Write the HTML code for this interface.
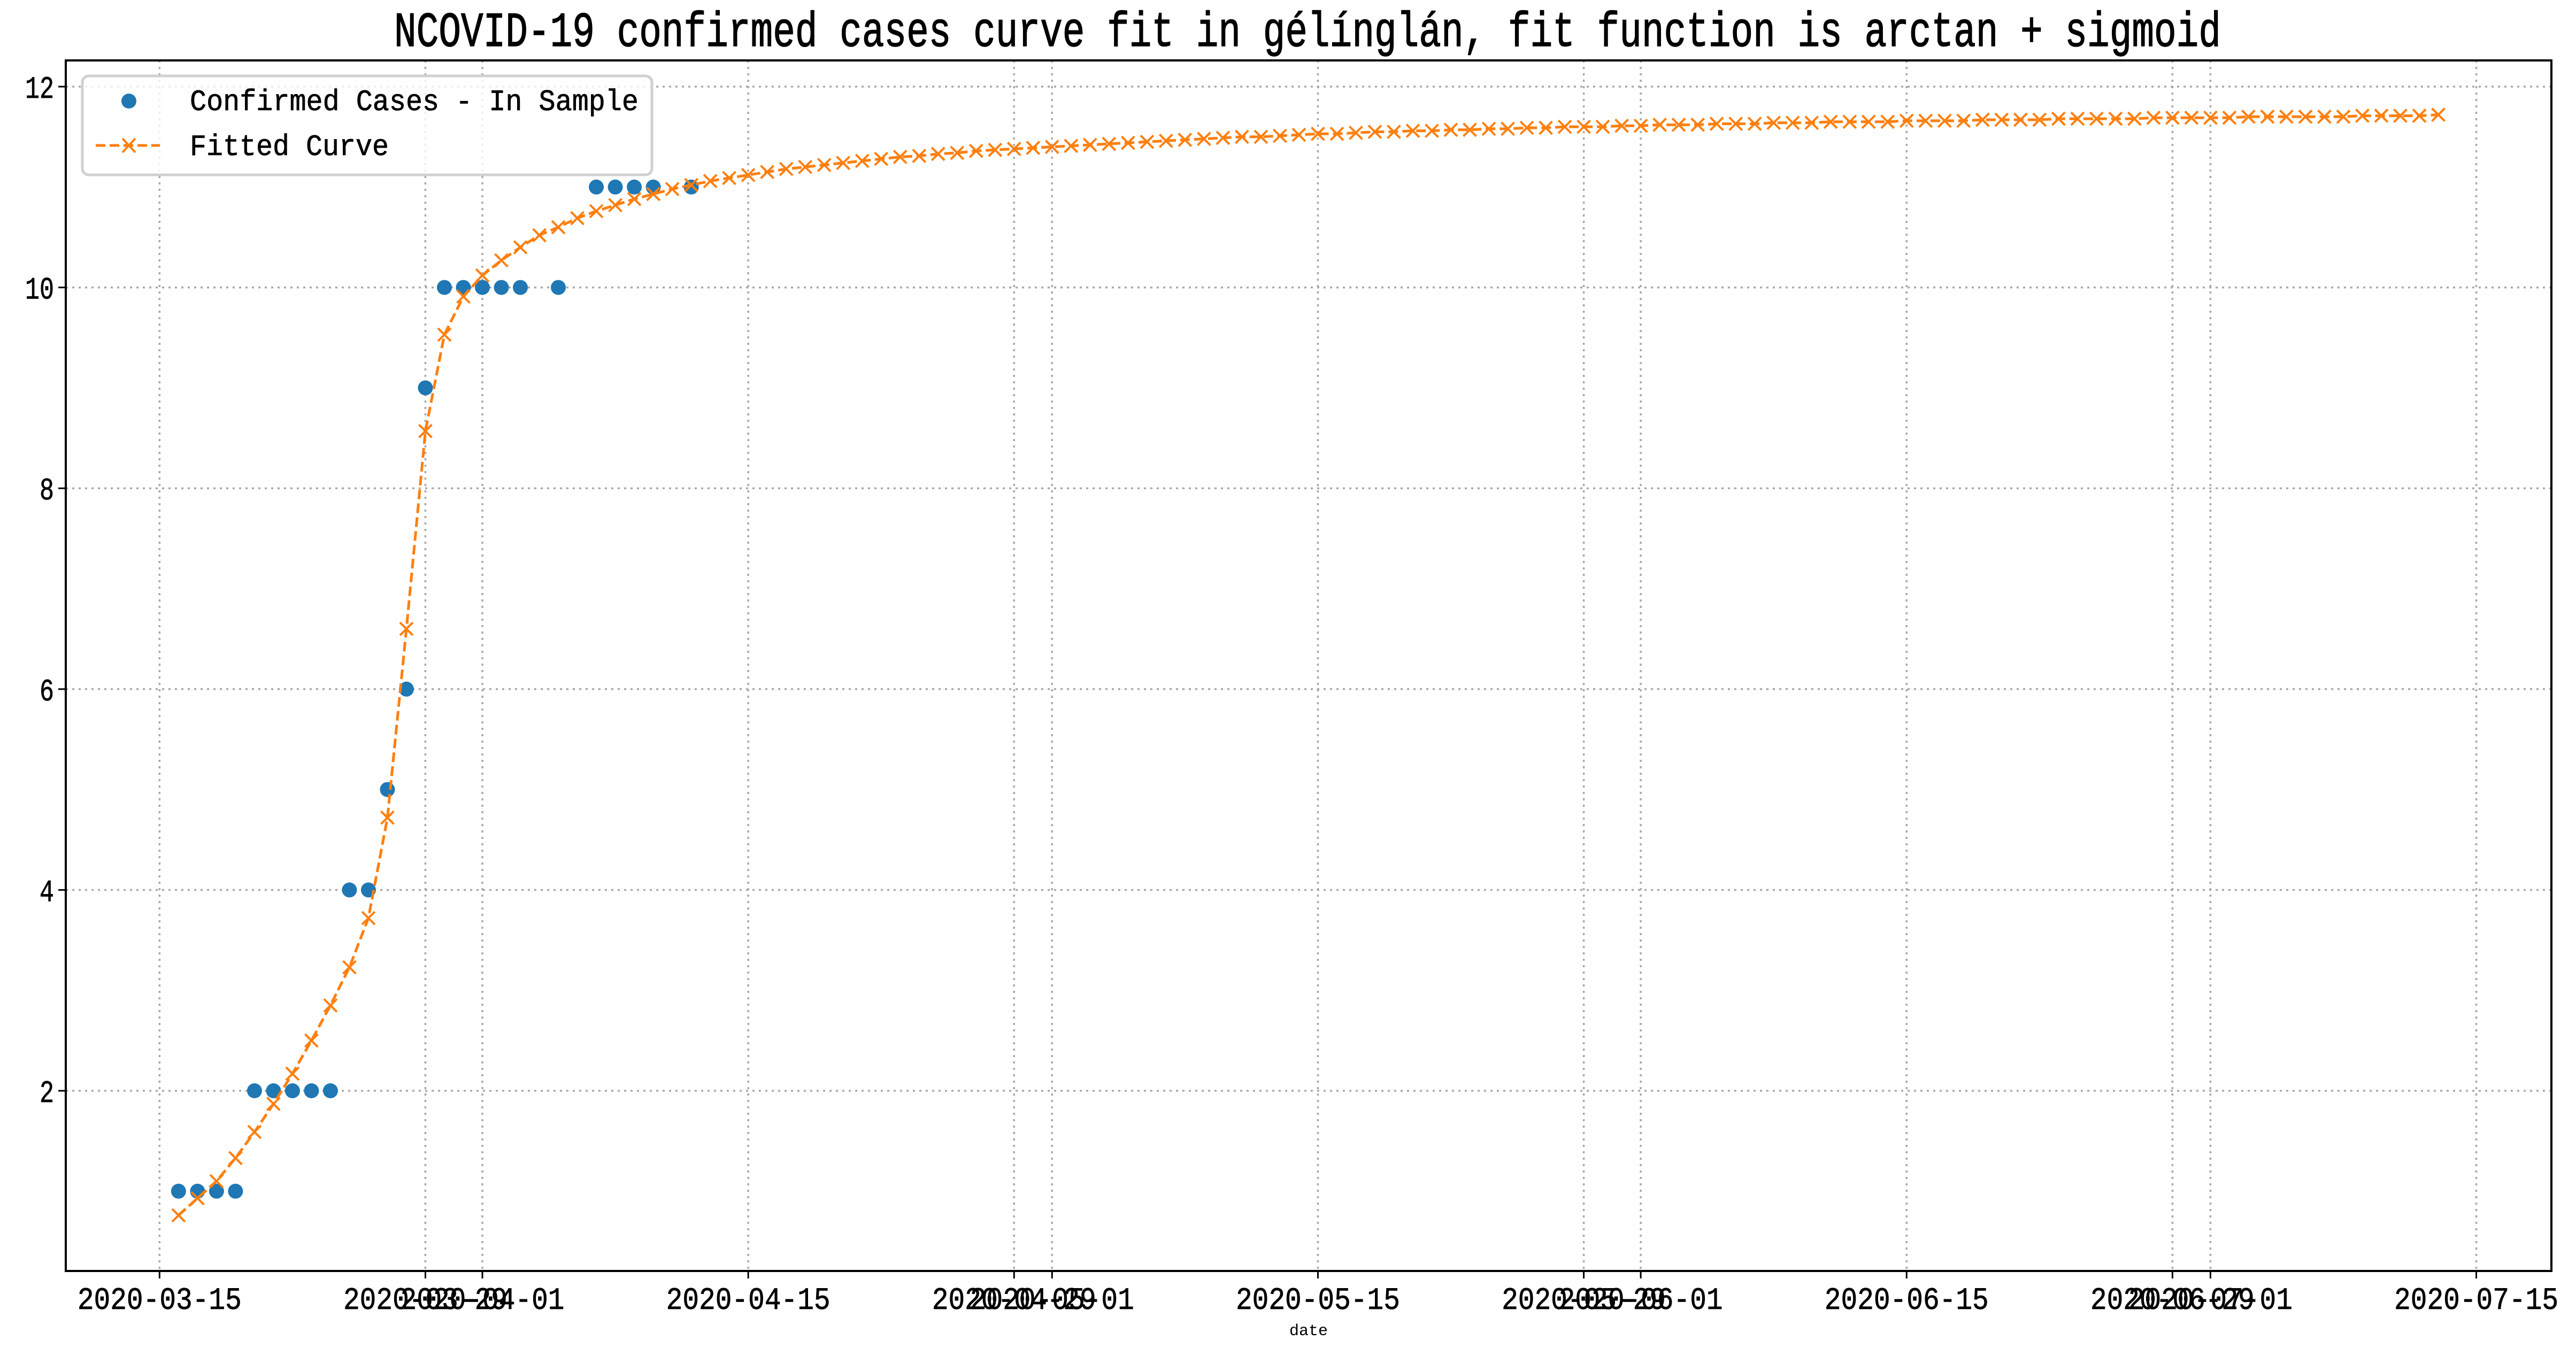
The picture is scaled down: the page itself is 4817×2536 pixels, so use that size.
<!DOCTYPE html>
<html><head><meta charset="utf-8"><style>
html,body{margin:0;padding:0;background:#fff;}
svg{display:block;}
text{font-family:"Liberation Mono","Noto Sans CJK SC",monospace;fill:#000;}
</style></head><body>
<svg id="chart" width="4817" height="2536" viewBox="0 0 4817 2536" xmlns="http://www.w3.org/2000/svg">
<rect width="4817" height="2536" fill="#fff"/>
<text x="2445" y="86" text-anchor="middle" font-size="92" stroke="#000" stroke-width="1.5" textLength="3416" lengthAdjust="spacingAndGlyphs">NCOVID-19 confirmed cases curve fit in gélínglán, fit function is arctan + sigmoid</text>
<g id="grid"></g>
<g id="series"></g>
<rect x="123" y="113" width="4648" height="2264" fill="none" stroke="#000" stroke-width="4"/>
<g id="axes"></g>
<text x="2447" y="2497" text-anchor="middle" font-size="30">date</text>
<g>
<rect x="154" y="142" width="1065" height="185" rx="12" fill="#fff" fill-opacity="0.8" stroke="#d0d0d0" stroke-width="5"/>
<circle cx="241" cy="189" r="14" fill="#1f77b4"/>
<text x="355" y="206" font-size="56" stroke="#000" stroke-width="0.8" textLength="839" lengthAdjust="spacingAndGlyphs">Confirmed Cases - In Sample</text>
<line x1="179" y1="272" x2="299" y2="272" stroke="#ff7f0e" stroke-width="5" stroke-dasharray="18,8"/>
<path d="M229 259 L253 285 M229 285 L253 259" stroke="#ff7f0e" stroke-width="4"/>
<text x="355" y="290" font-size="56" stroke="#000" stroke-width="0.8" textLength="372" lengthAdjust="spacingAndGlyphs">Fitted Curve</text>
</g>
</svg>
<script>
const NS = "http://www.w3.org/2000/svg";
const xTickLabels = ["2020-03-15","2020-03-29","2020-04-01","2020-04-15","2020-04-29","2020-05-01","2020-05-15","2020-05-29","2020-06-01","2020-06-15","2020-06-29","2020-07-01","2020-07-15"];
const yTicks = [2,4,6,8,10,12];
const caseDayOffsets = [0,1,2,3,4,5,6,7,8,9,10,11,12,13,14,15,16,17,18,20,22,23,24,25,27];
const caseValues = [1,1,1,1,2,2,2,2,2,4,4,5,6,9,10,10,10,10,10,10,11,11,11,11,11];
const fitStartDate = "2020-03-16";
const fitValues = [0.76,0.93,1.10,1.33,1.59,1.87,2.17,2.50,2.85,3.23,3.72,4.72,6.60,8.57,9.53,9.91,10.12,10.27,10.40,10.52,10.60,10.69,10.76,10.82,10.88,10.93,10.98,
11.02,11.06,11.09,11.12,11.15,11.18,11.20,11.22,11.24,11.26,11.28,11.30,11.31,11.33,11.34,11.36,11.37,11.38,11.39,11.40,11.41,11.42,11.43,
11.44,11.45,11.46,11.47,11.48,11.49,11.50,11.50,11.51,11.52,
11.53,11.53,11.54,11.55,11.55,11.56,11.56,11.57,11.57,11.58,
11.58,11.59,11.59,11.60,11.60,11.60,11.61,11.61,11.62,11.62,
11.62,11.63,11.63,11.63,11.64,11.64,11.64,11.65,11.65,11.65,
11.65,11.66,11.66,11.66,11.66,11.67,11.67,11.67,11.67,11.68,
11.68,11.68,11.68,11.68,11.69,11.69,11.69,11.69,11.69,11.70,
11.70,11.70,11.70,11.70,11.70,11.71,11.71,11.71,11.71,11.72];

const DAY = 86400000;
const ref = Date.UTC(2020,3,1);
function dayNum(s){const p=s.split("-");return (Date.UTC(+p[0],+p[1]-1,+p[2])-ref)/DAY;}
function xScale(d){return 902 + 35.51*d;}
function yScale(v){return 2040 - (v-2)*187.8;}
const plotL=123, plotR=4771, plotT=113, plotB=2377;
const grid=document.getElementById("grid"), axes=document.getElementById("axes"), series=document.getElementById("series");
function mk(tag,attrs,parent){const e=document.createElementNS(NS,tag);for(const k in attrs)e.setAttribute(k,attrs[k]);parent.appendChild(e);return e;}

xTickLabels.forEach(lbl=>{
  const x=xScale(dayNum(lbl));
  const g=mk("line",{x1:x,x2:x,y1:plotT,y2:plotB,stroke:"#a8a8a8","stroke-width":3.5,"stroke-dasharray":"4,8"},grid);
  
  
  const t=mk("line",{x1:x,x2:x,y1:plotB,y2:plotB+14,stroke:"#000","stroke-width":3},axes);
  
  
  const tx=mk("text",{x:x,y:2448,"text-anchor":"middle","font-size":58,stroke:"#000","stroke-width":0.8,textLength:307,lengthAdjust:"spacingAndGlyphs"},axes);
  tx.textContent=lbl;
  
  
});
yTicks.forEach(v=>{
  const y=yScale(v);
  const g=mk("line",{x1:plotL,x2:plotR,y1:y,y2:y,stroke:"#a8a8a8","stroke-width":3.5,"stroke-dasharray":"4,8"},grid);
  
  
  const t=mk("line",{x1:plotL-14,x2:plotL,y1:y,y2:y,stroke:"#000","stroke-width":3},axes);
  
  
  const tx=mk("text",{x:plotL-22,y:y+21,"text-anchor":"end","font-size":58,stroke:"#000","stroke-width":0.8,textLength:v>=10?54:27,lengthAdjust:"spacingAndGlyphs"},axes);
  tx.textContent=String(v);
  
  
});

const fit0=dayNum(fitStartDate);
caseValues.forEach((v,i)=>{
  const c=mk("circle",{cx:xScale(fit0+caseDayOffsets[i]),cy:yScale(v),r:14,fill:"#1f77b4"},series);
  
  
});
let d="";
fitValues.forEach((v,i)=>{d+=(i?"L":"M")+xScale(fit0+i).toFixed(1)+" "+yScale(v).toFixed(1);});
const line=mk("path",{d:d,fill:"none",stroke:"#ff7f0e","stroke-width":5,"stroke-dasharray":"18,8"},series);


fitValues.forEach((v,i)=>{
  const x=xScale(fit0+i), y=yScale(v), s=12;
  const m=mk("path",{d:`M${x-s} ${y-s}L${x+s} ${y+s}M${x-s} ${y+s}L${x+s} ${y-s}`,stroke:"#ff7f0e","stroke-width":4},series);
  
  
});
</script>
</body></html>
